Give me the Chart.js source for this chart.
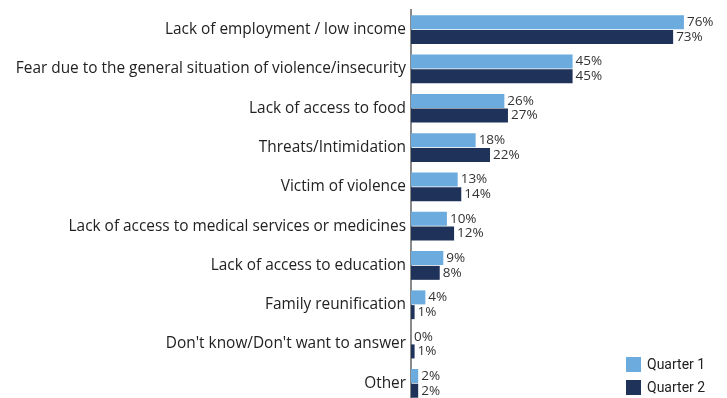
<!DOCTYPE html>
<html>
<head>
<meta charset="utf-8">
<script src="https://cdn.jsdelivr.net/npm/chart.js@4"></script>
<style>
  html, body { margin: 0; padding: 0; background: #fff; overflow: hidden; }
</style>
</head>
<body>
<canvas id="reasonsChart" width="727" height="403"></canvas>
<script>
// Reasons for leaving, share of respondents (%)
const reasons = [
    'Lack of employment / low income',
    'Fear due to the general situation of violence/insecurity',
    'Lack of access to food',
    'Threats/Intimidation',
    'Victim of violence',
    'Lack of access to medical services or medicines',
    'Lack of access to education',
    'Family reunification',
    "Don't know/Don't want to answer",
    'Other'
];
const quarter1 = [76, 45, 26, 18, 13, 10, 9, 4, 0, 2];
const quarter2 = [73, 45, 27, 22, 14, 12, 8, 1, 1, 2];
const seriesNames = ['Quarter 1', 'Quarter 2'];

const LIGHT = '#6cabdd';
const DARK = '#1f3259';

// Percentage text at the end of every bar
const valueLabels = {
    id: 'valueLabels',
    afterDatasetsDraw(chart) {
        const ctx = chart.ctx;
        ctx.save();
        ctx.font = '13.5px "Open Sans", sans-serif';
        ctx.fillStyle = '#333';
        ctx.textAlign = 'left';
        ctx.textBaseline = 'middle';
        chart.data.datasets.forEach((ds, i) => {
            chart.getDatasetMeta(i).data.forEach((bar, j) => {
                ctx.fillText(ds.data[j] + '%', bar.x + 3, bar.y);
            });
        });
        ctx.restore();
    }
};

// Legend box in the lower right corner
const cornerLegend = {
    id: 'cornerLegend',
    afterDraw(chart) {
        const ctx = chart.ctx;
        ctx.save();
        ctx.font = '14px Roboto, sans-serif';
        ctx.textBaseline = 'middle';
        chart.data.datasets.forEach((ds, i) => {
            const y = 357 + i * 23;
            ctx.fillStyle = ds.backgroundColor;
            ctx.fillRect(626, y, 15, 15);
            ctx.fillStyle = '#222';
            ctx.fillText(ds.label, 647, y + 8);
        });
        ctx.restore();
    }
};

new Chart(document.getElementById('reasonsChart'), {
    type: 'bar',
    data: {
        labels: reasons,
        datasets: [
            { label: seriesNames[0], data: quarter1, backgroundColor: LIGHT },
            { label: seriesNames[1], data: quarter2, backgroundColor: DARK }
        ]
    },
    options: {
        indexAxis: 'y',
        responsive: false,
        animation: false,
        categoryPercentage: 0.75,
        barPercentage: 0.95,
        layout: { padding: { top: 10, right: 0, bottom: 0, left: 0 } },
        plugins: {
            legend: { display: false },
            tooltip: { enabled: false }
        },
        scales: {
            x: {
                display: false,
                min: 0,
                max: 88
            },
            y: {
                // fixed axis position, no extra room above/below the labels
                afterFit(scale) {
                    scale.width = 411;
                    scale.paddingTop = 0;
                    scale.paddingBottom = 0;
                },
                grid: { display: false, drawTicks: false },
                border: { display: true, color: '#8a8a8a', width: 2 },
                ticks: {
                    padding: 5,
                    color: '#222',
                    font: { family: '"Open Sans", sans-serif', size: 15.4 }
                }
            }
        }
    },
    plugins: [valueLabels, cornerLegend]
});
</script>
</body>
</html>
